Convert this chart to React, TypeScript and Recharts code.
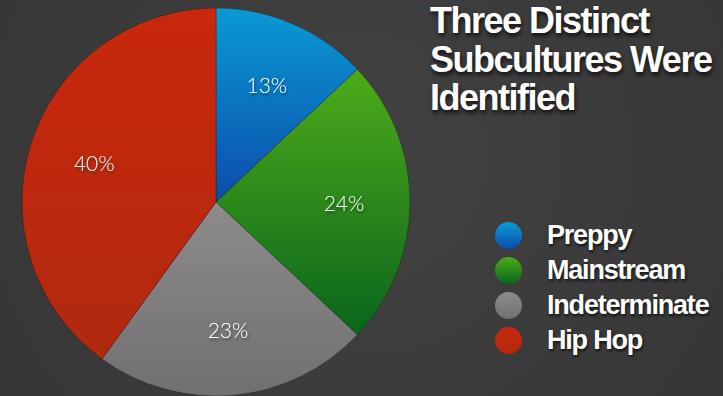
import { Cell, Legend, Pie, PieChart } from "recharts";

const SEGMENTS = ["Preppy", "Mainstream", "Indeterminate", "Hip Hop"];
const SHARES = [13, 24, 23, 40];
const TITLE_LINES = ["Three Distinct", "Subcultures Were", "Identified"];

// [top, bottom] gradient stops per slice
const GRADIENTS = [
  ["#0a9ad4", "#0c4cab"],
  ["#4dab1a", "#0a651d"],
  ["#8d8b8b", "#716f6f"],
  ["#c9280c", "#b0290f"],
];

const rows = SEGMENTS.map((name, i) => ({ name, value: SHARES[i] }));

const RAD = Math.PI / 180;

function PctLabel(props: any) {
  const { cx, cy, midAngle, value } = props;
  const r = 128;
  const x = cx + r * Math.cos(-midAngle * RAD);
  const y = cy + r * Math.sin(-midAngle * RAD);
  return (
    <text
      x={x}
      y={y}
      fill="#ffffff"
      textAnchor="middle"
      dominantBaseline="central"
      fontFamily="Lato, 'Open Sans', sans-serif"
      fontWeight={300}
      fontSize={21}
      filter="url(#lblShadow)"
    >
      {value}%
    </text>
  );
}

function LegendList() {
  return (
    <div style={{ display: "flex", flexDirection: "column" }}>
      {SEGMENTS.map((name, i) => (
        <div
          key={name}
          style={{ display: "flex", alignItems: "center", height: 35 }}
        >
          <span
            style={{
              width: 27,
              height: 27,
              borderRadius: "50%",
              background: `linear-gradient(${GRADIENTS[i][0]}, ${GRADIENTS[i][1]})`,
              marginRight: 25,
              flex: "none",
            }}
          />
          <span
            style={{
              color: "#fff",
              fontFamily: "'Liberation Sans', Arial, sans-serif",
              fontWeight: 700,
              fontSize: 27,
              letterSpacing: -1.2,
              textShadow: "1px 2px 3px rgba(0,0,0,0.7)",
              lineHeight: "35px",
            }}
          >
            {name}
          </span>
        </div>
      ))}
    </div>
  );
}

export default function App() {
  return (
    <div
      style={{
        position: "relative",
        width: 723,
        height: 396,
        overflow: "hidden",
        background: "radial-gradient(circle at 50% 40%, #424242, #363636)",
      }}
    >
      <style>{"body{margin:0}"}</style>
      <PieChart width={723} height={396} margin={{ top: 0, right: 0, bottom: 0, left: 0 }}>
        <defs>
          {GRADIENTS.map(([a, b], i) => (
            <linearGradient key={i} id={`g${i}`} x1="0" y1="0" x2="0" y2="1">
              <stop offset="0%" stopColor={a} />
              <stop offset="100%" stopColor={b} />
            </linearGradient>
          ))}
          <filter id="lblShadow" x="-20%" y="-20%" width="140%" height="160%">
            <feDropShadow dx="1" dy="2" stdDeviation="1.5" floodColor="#000" floodOpacity="0.45" />
          </filter>
        </defs>
        <Pie
          data={rows}
          dataKey="value"
          nameKey="name"
          cx={216}
          cy={202}
          outerRadius={194}
          startAngle={90}
          endAngle={-270}
          stroke="rgba(0,0,0,0.25)"
          strokeWidth={1}
          label={PctLabel}
          labelLine={false}
          isAnimationActive={false}
        >
          {rows.map((row, i) => (
            <Cell key={row.name} fill={`url(#g${i})`} />
          ))}
        </Pie>
        <Legend
          content={<LegendList />}
          wrapperStyle={{ position: "absolute", left: 495, top: 218, width: 228 }}
        />
      </PieChart>
      <div
        style={{
          position: "absolute",
          left: 430,
          top: 2,
          color: "#fff",
          fontFamily: "'Liberation Sans', Arial, sans-serif",
          fontWeight: 700,
          fontSize: 36,
          letterSpacing: -1.5,
          lineHeight: "38.5px",
          textShadow: "1px 3px 4px rgba(0,0,0,0.75)",
          whiteSpace: "nowrap",
        }}
      >
        {TITLE_LINES.map((t) => (
          <div key={t}>{t}</div>
        ))}
      </div>
    </div>
  );
}
